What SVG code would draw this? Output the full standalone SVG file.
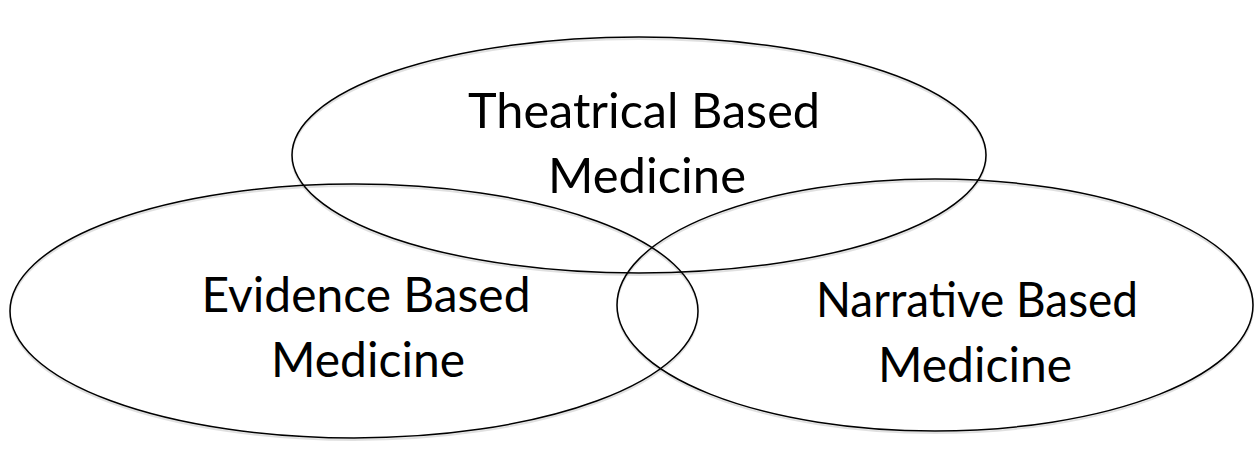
<svg xmlns="http://www.w3.org/2000/svg" width="1258" height="467" viewBox="0 0 1258 467">
<style>
.e{fill:none;stroke:#000;stroke-width:1.5}
.s{fill:none;stroke:#000;stroke-opacity:0.12;stroke-width:2}
.t{font-family:Lato,"Open Sans",sans-serif;font-size:48px;fill:#000;text-anchor:middle}
</style>
<rect width="1258" height="467" fill="#fff"/>
<g id="theatrical">
<ellipse class="s" cx="639" cy="157" rx="347" ry="118"/>
<ellipse class="e" cx="639" cy="155" rx="347" ry="118"/>
<text class="t" x="644" y="128" textLength="352" lengthAdjust="spacingAndGlyphs">Theatrical Based</text>
<text class="t" x="647" y="193" textLength="198" lengthAdjust="spacingAndGlyphs">Medicine</text>
</g>
<g id="evidence">
<ellipse class="s" cx="354" cy="313" rx="344" ry="127"/>
<ellipse class="e" cx="354" cy="311" rx="344" ry="127"/>
<text class="t" x="366" y="312" textLength="329" lengthAdjust="spacingAndGlyphs">Evidence Based</text>
<text class="t" x="368" y="377" textLength="194" lengthAdjust="spacingAndGlyphs">Medicine</text>
</g>
<g id="narrative">
<ellipse class="s" cx="935" cy="307" rx="318" ry="126"/>
<ellipse class="e" cx="935" cy="305" rx="318" ry="126"/>
<text class="t" x="977" y="317" textLength="322" lengthAdjust="spacingAndGlyphs">Narrative Based</text>
<text class="t" x="975" y="382" textLength="194" lengthAdjust="spacingAndGlyphs">Medicine</text>
</g>
<g id="connectors"/>
</svg>
